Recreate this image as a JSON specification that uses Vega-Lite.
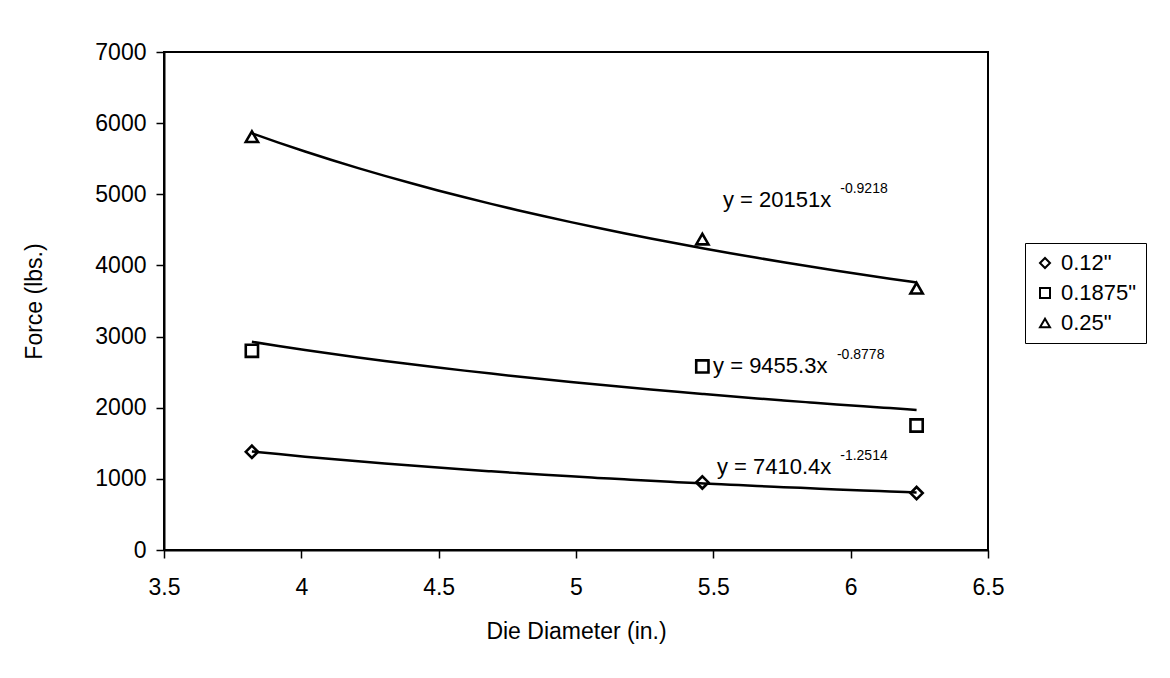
{
  "$schema": "https://vega.github.io/schema/vega-lite/v6.json",
  "width": 824,
  "height": 498,
  "autosize": {"type": "none"},
  "padding": {"left": 164, "top": 52, "right": 182, "bottom": 128},
  "background": "white",
  "config": {
    "font": "Liberation Sans",
    "view": {"stroke": "black", "strokeWidth": 2},
    "axis": {"grid": false, "domainColor": "black", "tickColor": "black", "labelColor": "black", "titleColor": "black", "labelFont": "Liberation Sans", "titleFont": "Liberation Sans", "titleFontWeight": "normal", "domainWidth": 2, "tickWidth": 1.5, "labelFontSize": 23, "titleFontSize": 23, "tickSize": 8},
    "axisX": {"labelPadding": 18, "titlePadding": 21, "labelFlush": false},
    "axisY": {"labelPadding": 10, "titlePadding": 48}
  },
  "datasets": {
    "pts": [
      {"d": 3.82, "f": 1380, "series": "0.12\""},
      {"d": 5.46, "f": 950, "series": "0.12\""},
      {"d": 6.24, "f": 800, "series": "0.12\""},
      {"d": 3.82, "f": 2800, "series": "0.1875\""},
      {"d": 5.46, "f": 2580, "series": "0.1875\""},
      {"d": 6.24, "f": 1750, "series": "0.1875\""},
      {"d": 3.82, "f": 5810, "series": "0.25\""},
      {"d": 5.46, "f": 4370, "series": "0.25\""},
      {"d": 6.24, "f": 3680, "series": "0.25\""}
    ],
    "eq": [
      {"d": 5.535, "f": 4821, "t": "y = 20151x"},
      {"d": 5.499, "f": 2488, "t": "y = 9455.3x"},
      {"d": 5.513, "f": 1068, "t": "y = 7410.4x"}
    ],
    "sup": [
      {"d": 5.962, "f": 5018, "t": "-0.9218"},
      {"d": 5.950, "f": 2685, "t": "-0.8778"},
      {"d": 5.962, "f": 1265, "t": "-1.2514"}
    ]
  },
  "layer": [
    {
      "data": {"name": "pts"},
      "mark": {"type": "point", "filled": false, "color": "black", "strokeWidth": 2.6, "size": 150, "opacity": 1},
      "encoding": {
        "x": {
          "field": "d", "type": "quantitative",
          "scale": {"domain": [3.5, 6.5], "nice": false, "zero": false},
          "axis": {"values": [3.5, 4, 4.5, 5, 5.5, 6, 6.5], "format": "~g", "title": "Die Diameter (in.)"}
        },
        "y": {
          "field": "f", "type": "quantitative",
          "scale": {"domain": [0, 7000], "nice": false},
          "axis": {"values": [0, 1000, 2000, 3000, 4000, 5000, 6000, 7000], "format": "d", "title": "Force (lbs.)"}
        },
        "shape": {
          "field": "series", "type": "nominal",
          "scale": {"domain": ["0.12\"", "0.1875\"", "0.25\""], "range": ["diamond", "square", "triangle-up"]},
          "legend": {
            "title": null, "orient": "none", "legendX": 861, "legendY": 191,
            "labelFontSize": 22, "labelFont": "Liberation Sans", "labelColor": "black",
            "symbolStrokeColor": "black", "symbolStrokeWidth": 2, "symbolSize": 100,
            "strokeColor": "black", "padding": 9, "rowPadding": 8, "labelOffset": 5,
            "fillColor": "white"
          }
        }
      }
    },
    {
      "data": {"name": "pts"},
      "transform": [
        {"regression": "f", "on": "d", "groupby": ["series"], "method": "pow", "extent": [3.82, 6.24]}
      ],
      "mark": {"type": "line", "color": "black", "strokeWidth": 2.5, "interpolate": "monotone"},
      "encoding": {
        "x": {"field": "d", "type": "quantitative"},
        "y": {"field": "f", "type": "quantitative"},
        "detail": {"field": "series"}
      }
    },
    {
      "data": {"name": "eq"},
      "mark": {"type": "text", "align": "left", "baseline": "alphabetic", "fontSize": 22, "color": "black", "font": "Liberation Sans"},
      "encoding": {
        "x": {"field": "d", "type": "quantitative"},
        "y": {"field": "f", "type": "quantitative"},
        "text": {"field": "t"}
      }
    },
    {
      "data": {"name": "sup"},
      "mark": {"type": "text", "align": "left", "baseline": "alphabetic", "fontSize": 14, "color": "black", "font": "Liberation Sans"},
      "encoding": {
        "x": {"field": "d", "type": "quantitative"},
        "y": {"field": "f", "type": "quantitative"},
        "text": {"field": "t"}
      }
    }
  ]
}
